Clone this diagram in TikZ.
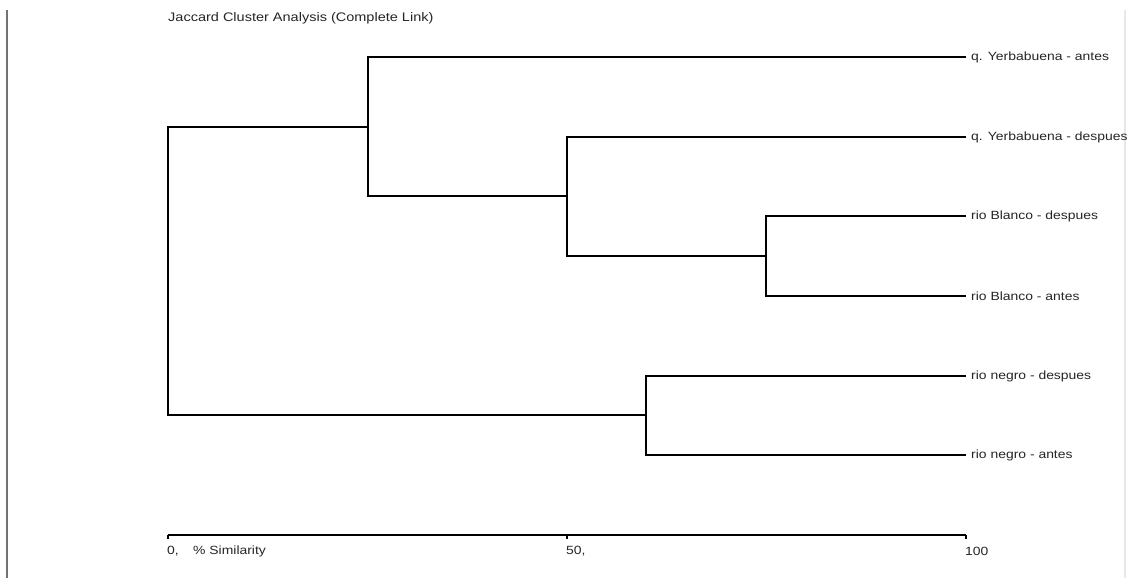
\documentclass[tikz,border=0pt]{standalone}
\usepackage{graphicx}
\usepackage{fontspec}
\setmainfont{Liberation Sans}
\newcommand{\wide}[1]{\scalebox{1.17}[1]{#1}}
\tikzset{
  tree/.style={line width=2pt, black},
  axisline/.style={line width=1.4pt, black},
  leaflabel/.style={anchor=west, inner sep=0pt, font=\fontsize{11.9}{12}\selectfont, text=black!85},
  axislabel/.style={anchor=west, inner sep=0pt, font=\fontsize{11.9}{12}\selectfont, text=black!85},
  titlelabel/.style={anchor=west, inner sep=0pt, font=\fontsize{12.4}{13}\selectfont, text=black!85},
}
\begin{document}
\begin{tikzpicture}[x=1pt,y=-1pt]
\useasboundingbox (0,0) rectangle (1133,578);
\fill[white] (0,0) rectangle (1133,578);
% frame lines
\draw[line width=2pt, black!55] (7,10) -- (7,578);
\draw[line width=1.2pt, black!9] (1125,10) -- (1125,578);
% title
\node[titlelabel] (title) at (168,18) {\wide{Jaccard Cluster Analysis (Complete Link)}};
% leaf coordinates
\coordinate (l1) at (966,57);
\coordinate (l2) at (966,137);
\coordinate (l3) at (966,216);
\coordinate (l4) at (966,296);
\coordinate (l5) at (966,376);
\coordinate (l6) at (966,455);
% merge nodes
\coordinate (nA) at (766,256);
\coordinate (nB) at (567,196);
\coordinate (nC) at (368,127);
\coordinate (nD) at (646,415);
\coordinate (root) at (168,271);
% tree
\draw[tree] (l3) -| (nA) |- (l4);
\draw[tree] (l2) -| (nB) |- (nA);
\draw[tree] (l1) -| (nC) |- (nB);
\draw[tree] (l5) -| (nD) |- (l6);
\draw[tree] (nC) -| (root) |- (nD);
% labels
\begin{scope}
\clip (960,0) rectangle (1126,578);
\node[leaflabel] (t1) at (971,57.5) {\wide{q. Yerbabuena - antes}};
\node[leaflabel] (t2) at (971,137.5) {\wide{q. Yerbabuena - despues}};
\node[leaflabel] (t3) at (971,216.5) {\wide{rio Blanco - despues}};
\node[leaflabel] (t4) at (971,296.5) {\wide{rio Blanco - antes}};
\node[leaflabel] (t5) at (971,376.5) {\wide{rio negro - despues}};
\node[leaflabel] (t6) at (971,455.5) {\wide{rio negro - antes}};
\end{scope}
% axis
\coordinate (a0) at (168,535);
\coordinate (a50) at (567,535);
\coordinate (a100) at (966,535);
\draw[axisline] (a0) -- (a100);
\draw[axisline] (a0) -- ++(0,3.5);
\draw[axisline] (a50) -- ++(0,3.5);
\draw[axisline] (a100) -- ++(0,3.5);
\node[axislabel] (x0) at (167,551) {\wide{0,}};
\node[axislabel] (xl) at (193,551) {\wide{\% Similarity}};
\node[axislabel] (x50) at (566,551) {\wide{50,}};
\node[axislabel] (x100) at (965,551) {\wide{100}};
\end{tikzpicture}
\end{document}
